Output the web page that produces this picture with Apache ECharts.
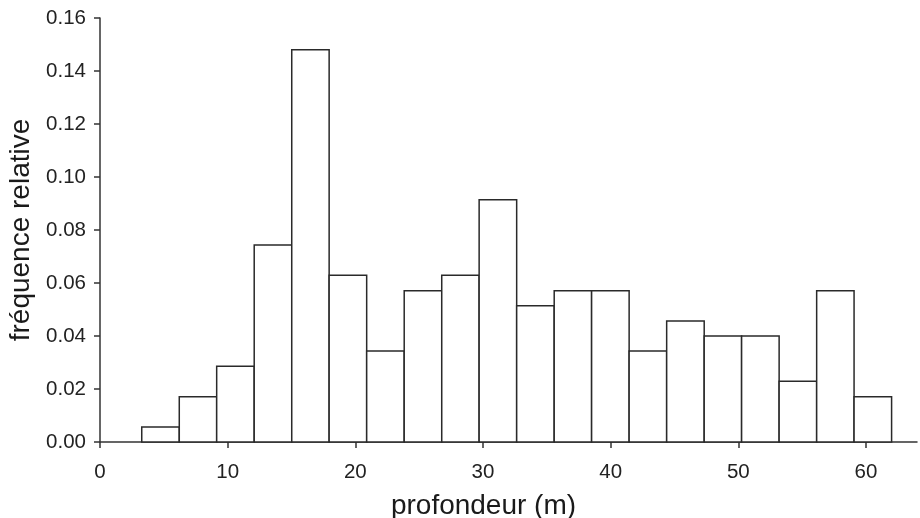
<!DOCTYPE html>
<html>
<head>
<meta charset="utf-8">
<script src="https://cdn.jsdelivr.net/npm/echarts@6/dist/echarts.min.js"></script>
<style>html,body{margin:0;padding:0;background:#fff}#c{width:920px;height:518px}</style>
</head>
<body>
<div id="c"></div>
<script>
// Histogram of depth (profondeur, m)
var binEdges = [3.27, 6.21, 9.14, 12.08, 15.02, 17.95, 20.89, 23.83, 26.77, 29.70, 32.64, 35.58, 38.51, 41.45, 44.39, 47.33, 50.26, 53.20, 56.14, 59.07, 62.01];
var freqValues = [0.0057, 0.0171, 0.0286, 0.0743, 0.1480, 0.0629, 0.0343, 0.0571, 0.0629, 0.0914, 0.0514, 0.0571, 0.0571, 0.0343, 0.0457, 0.0400, 0.0400, 0.0229, 0.0571, 0.0171];
var xTicks = [0, 10, 20, 30, 40, 50, 60];
var yTicks = [0, 0.02, 0.04, 0.06, 0.08, 0.10, 0.12, 0.14, 0.16];
var xTitle = 'profondeur (m)';
var yTitle = 'fréquence relative';

var data = freqValues.map(function (v, i) { return [binEdges[i], binEdges[i + 1], v]; });

var chart = echarts.init(document.getElementById('c'), null, { renderer: 'canvas' });
var font = 'Liberation Sans, Arial, sans-serif';
chart.setOption({
  backgroundColor: '#fff',
  animation: false,
  grid: { left: 100, right: 3, top: 18, bottom: 76, containLabel: false, outerBoundsMode: 'none' },
  xAxis: {
    type: 'value', min: 0, max: 64, interval: 10,
    name: xTitle, nameLocation: 'middle', nameGap: 50,
    nameTextStyle: { fontFamily: font, fontSize: 28, color: '#1a1a1a', padding: [0, 50, 0, 0] },
    axisLine: { show: true, lineStyle: { color: '#333', width: 1.5 } },
    axisTick: { show: true, length: 6, lineStyle: { color: '#333', width: 1.5 }, customValues: xTicks },
    axisLabel: { fontFamily: font, fontSize: 20.5, color: '#222', margin: 20, customValues: xTicks },
    splitLine: { show: false }
  },
  yAxis: {
    type: 'value', min: 0, max: 0.16, interval: 0.02,
    name: yTitle, nameLocation: 'middle', nameGap: 60,
    nameTextStyle: { fontFamily: font, fontSize: 28, color: '#1a1a1a' },
    axisLine: { show: true, lineStyle: { color: '#333', width: 1.5 } },
    axisTick: { show: true, length: 6, lineStyle: { color: '#333', width: 1.5 }, customValues: yTicks },
    axisLabel: { fontFamily: font, fontSize: 20.5, color: '#222', margin: 14, customValues: yTicks,
      formatter: function (v) { return v.toFixed(2); } },
    splitLine: { show: false }
  },
  series: [{
    type: 'custom',
    data: data,
    encode: { x: [0, 1], y: 2 },
    renderItem: function (params, api) {
      var p0 = api.coord([api.value(0), 0]);
      var p1 = api.coord([api.value(1), api.value(2)]);
      return {
        type: 'rect',
        shape: { x: p0[0], y: p1[1], width: p1[0] - p0[0], height: p0[1] - p1[1] },
        style: { fill: '#fff', stroke: '#2a2a2a', lineWidth: 1.5 }
      };
    }
  }]
});
</script>
</body>
</html>
